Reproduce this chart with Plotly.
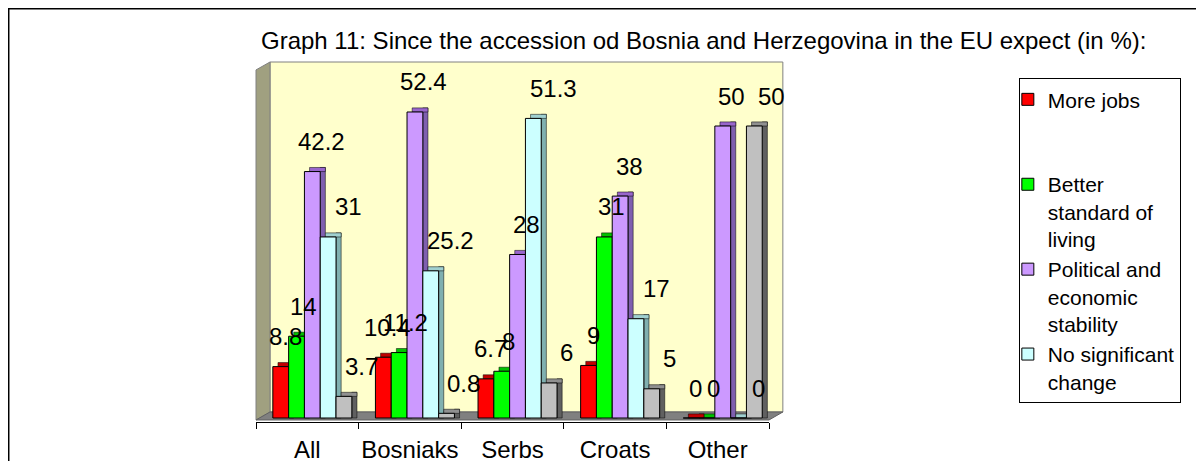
import plotly.graph_objects as go

categories = ["All", "Bosniaks", "Serbs", "Croats", "Other"]
more_jobs = [8.8, 10.4, 6.7, 9, 0]
better_living = [14, 11.2, 8, 31, 0]
stability = [42.2, 52.4, 28, 38, 50]
no_change = [31, 25.2, 51.3, 17, 0]
series_5 = [3.7, 0.8, 6, 5, 50]

legend_names = [
    "More jobs<br> <br> ",
    "Better<br>standard of<br>living",
    "Political and<br>economic<br>stability",
    "No significant<br>change",
    "Series 5",
]

# front, top, side colours
COLORS = [
    ("#FF0000", "#C00000", "#800000"),
    ("#00FF00", "#00C000", "#008000"),
    ("#CC99FF", "#9966CC", "#7F5FAF"),
    ("#CCFFFF", "#A0D0D0", "#80B0B0"),
    ("#C0C0C0", "#909090", "#606060"),
]
LABEL_DX = [-22, -4, 14, 41, 54]

W = 0.154      # bar width (category units)
START = -0.336  # left edge of first bar
DX = 0.05      # depth, x
DY = 0.7       # depth, y
FONT = "Arial, Liberation Sans, sans-serif"

series = [more_jobs, better_living, stability, no_change, series_5]

fig = go.Figure()

# side faces
for i, vals in enumerate(series):
    fig.add_bar(x=categories, y=[v + DY for v in vals], base=0,
                offset=START + i * W + W, width=DX,
                marker_color=COLORS[i][2], marker_line=dict(color="#000000", width=0.5),
                showlegend=False, hoverinfo="skip")
# top faces
for i, vals in enumerate(series):
    fig.add_bar(x=categories, y=[DY] * len(vals), base=vals,
                offset=START + i * W + DX, width=W,
                marker_color=COLORS[i][1], marker_line=dict(color="#000000", width=0.5),
                showlegend=False, hoverinfo="skip")
# front faces
for i, vals in enumerate(series):
    fig.add_bar(x=categories, y=vals, name=legend_names[i],
                offset=START + i * W, width=W,
                marker_color=COLORS[i][0], marker_line=dict(color="#000000", width=1),
                showlegend=i < 4)

# value labels
for i, vals in enumerate(series):
    for c, v in zip(categories, vals):
        fig.add_annotation(x=c, y=v, text=f"{v:g}", showarrow=False,
                           xshift=LABEL_DX[i], yshift=30,
                           font=dict(size=24, color="#000000", family=FONT))

fig.add_annotation(
    text="Graph 11: Since the accession od Bosnia and Herzegovina in the EU expect (in %):",
    xref="paper", yref="paper", x=0.872, y=1.061, xanchor="center", yanchor="middle",
    showarrow=False, font=dict(size=24, color="#000000", family=FONT),
)

shapes = [
    # outer chart border
    dict(type="rect", xref="paper", yref="paper", x0=-0.482, x1=1.9, y0=-0.3, y1=1.148,
         line=dict(color="#000000", width=1.5), fillcolor="rgba(0,0,0,0)", layer="below"),
    # back wall
    dict(type="rect", xref="paper", yref="paper", x0=0.0273, x1=1.027, y0=0.0278, y1=1.0,
         line=dict(color="#808080", width=1), fillcolor="#FFFFCC", layer="below"),
    # left wall
    dict(type="path", xref="paper", yref="paper",
         path="M 0 0.978 L 0.0273 1.0 L 0.0273 0.0278 L 0 0.0056 Z",
         line=dict(color="#808080", width=1), fillcolor="#A0A080", layer="below"),
    # floor
    dict(type="path", xref="paper", yref="paper",
         path="M 0 0.0056 L 0.0273 0.0278 L 1.027 0.0278 L 1.0 0.0056 Z",
         line=dict(color="#606060", width=1), fillcolor="#808080", layer="below"),
]

fig.update_layout(
    width=1204, height=461,
    margin=dict(l=248, r=443, t=54, b=47, autoexpand=False),
    barmode="overlay",
    paper_bgcolor="#FFFFFF", plot_bgcolor="rgba(0,0,0,0)",
    font=dict(family=FONT, color="#000000"),
    shapes=shapes,
    legend=dict(
        x=1.487, y=0.955, xanchor="left", yanchor="top",
        bgcolor="#FFFFFF", bordercolor="#000000", borderwidth=1,
        font=dict(size=21, family=FONT, color="#000000"),
        valign="top", traceorder="normal", indentation=-12,
    ),
    xaxis=dict(
        range=[-0.5, 4.5], showline=True, linecolor="#000000", linewidth=1,
        ticks="outside", tickson="boundaries", ticklen=6, tickcolor="#000000",
        tickangle=0, automargin=False, ticklabelstandoff=6,
        tickfont=dict(size=24, family=FONT, color="#000000"), showgrid=False,
    ),
    yaxis=dict(range=[-0.685, 60.96], visible=False, showgrid=False),
)

fig.write_html("out.html")
